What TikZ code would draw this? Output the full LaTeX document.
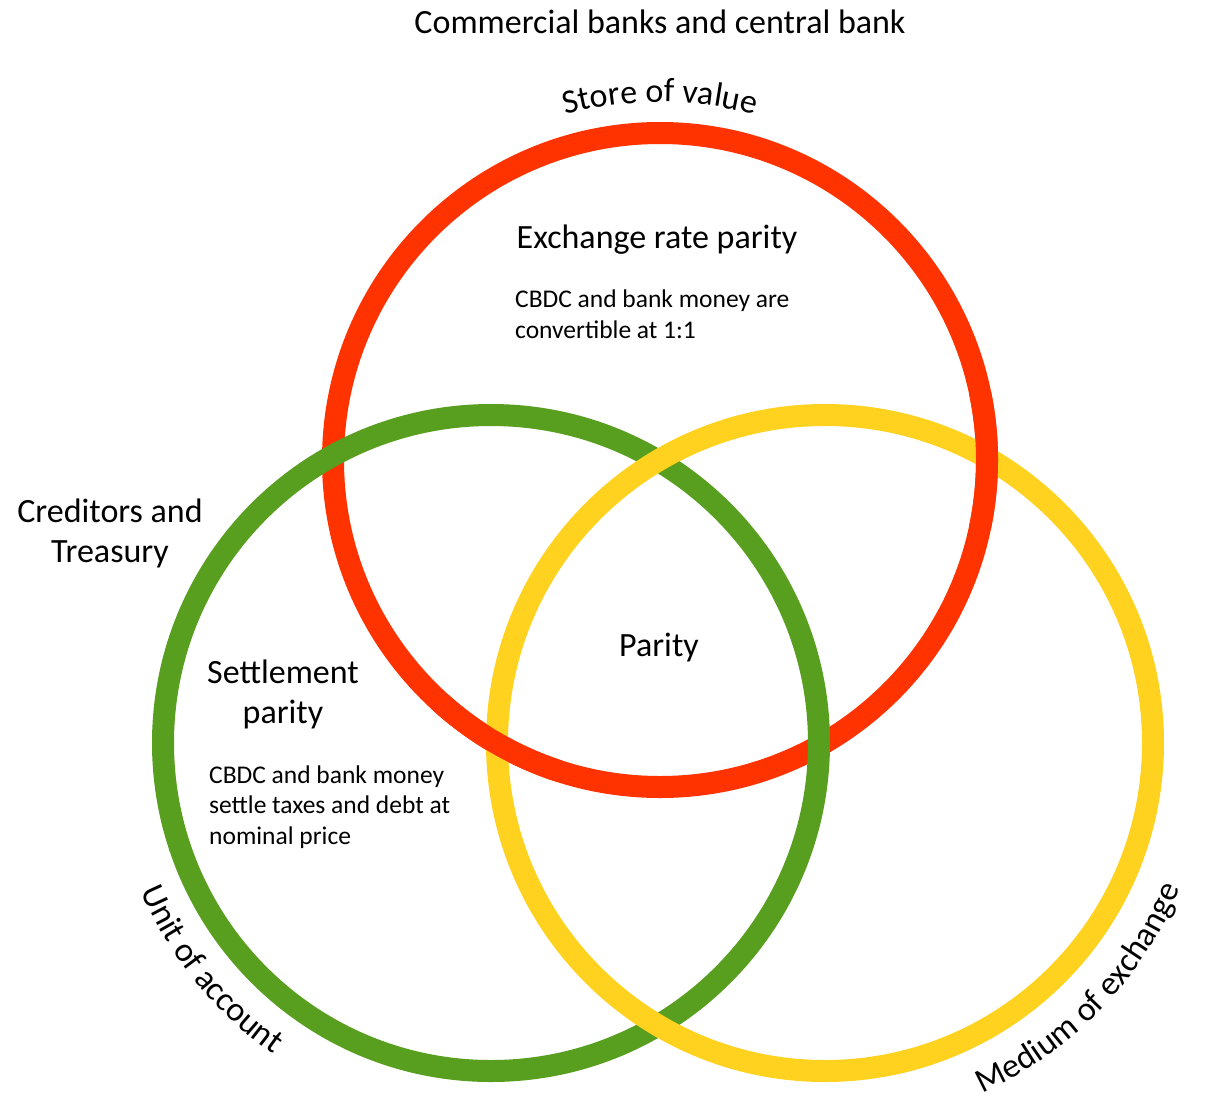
\documentclass[tikz,border=0pt]{standalone}
\usepackage{fontspec}
\setmainfont{Carlito}
\usetikzlibrary{decorations.text}
\definecolor{ringred}{RGB}{255,51,0}
\definecolor{ringgreen}{RGB}{88,158,31}
\definecolor{ringyellow}{RGB}{255,210,32}
\newcommand{\bigtxt}{\fontsize{34}{40}\selectfont}
\newcommand{\smalltxt}{\fontsize{25.5}{30.5}\selectfont}

\begin{document}
\begin{tikzpicture}[x=1pt,y=1pt,
  ring/.style={line width=22pt},
  big/.style={font=\bigtxt, inner sep=0pt, align=center},
  small/.style={font=\smalltxt, inner sep=0pt, align=left, anchor=west},
  curved/.style={decorate, decoration={text along path, text align=center, text={|\bigtxt|#1}}}]
\useasboundingbox (0,0) rectangle (1212,-1103);%
\fill[white] (0,0) rectangle (1212,-1103);%
% ring centres
\coordinate (red) at (660,-460);%
\coordinate (green) at (491,-743);%
\coordinate (yellow) at (825,-743);%
% rings
\draw[ring, ringred] (red) circle[radius=327];%
\draw[ring, ringgreen] (green) circle[radius=328];%
\draw[ring, ringyellow] (yellow) circle[radius=328];%
% red goes over yellow at both crossings
\draw[ring, ringred] ([shift={(-12:327)}]red) arc[start angle=-12, end angle=12, radius=327];%
\draw[ring, ringred] ([shift={(228:327)}]red) arc[start angle=228, end angle=252, radius=327];%
% ring labels
\path[curved={Store of value}] ([shift={(125:358)}]red) arc[start angle=125, end angle=55, radius=358];%
\path[curved={Unit of account}] ([shift={(190:380)}]green) arc[start angle=190, end angle=248, radius=380];%
\path[curved={Medium of exchange}] ([shift={(-78:384)}]yellow) arc[start angle=-78, end angle=-10, radius=384];%
% texts
\node[big] (title) at (660,-22) {Commercial banks and central bank};%
\node[big] (exch) at (657,-240) {Exchange rate parity};%
\node[small] (exchtxt) at (515,-314) {CBDC and bank money are\\convertible at 1:1};%
\node[big] (cred) at (110,-533) {Creditors and\\Treasury};%
\node[big] (settle) at (283,-694) {Settlement\\parity};%
\node[small] (settletxt) at (209,-807) {CBDC and bank money\\settle taxes and debt at\\nominal price};%
\node[big] (parity) at (659,-648) {Parity};%
\end{tikzpicture}
\end{document}
